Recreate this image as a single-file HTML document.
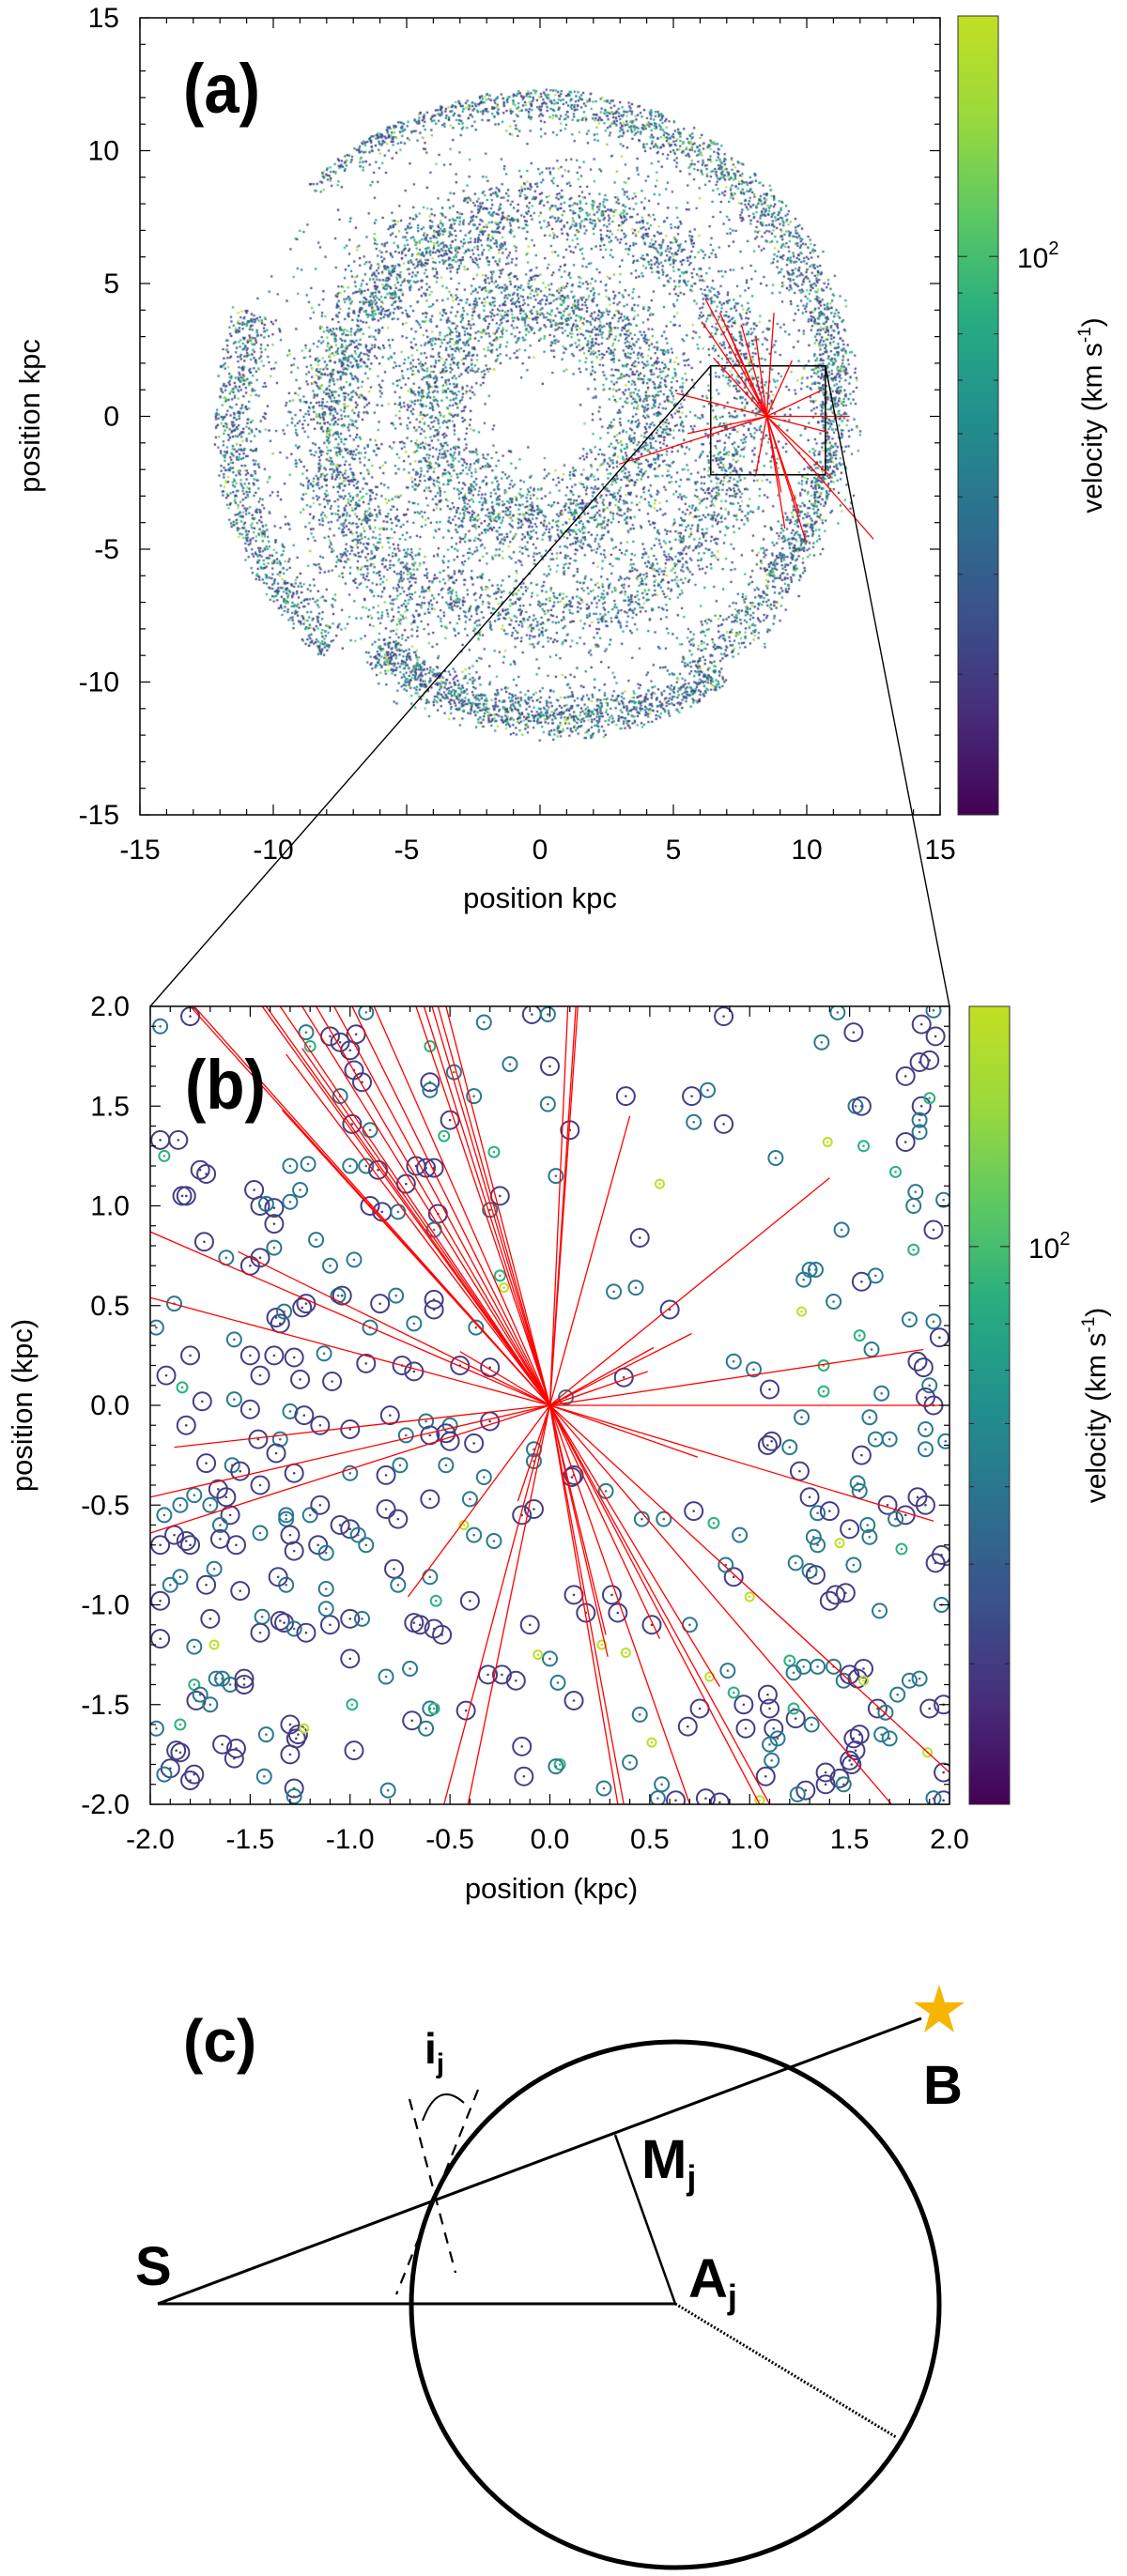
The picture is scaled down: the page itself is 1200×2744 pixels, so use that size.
<!DOCTYPE html>
<html><head><meta charset="utf-8">
<style>
html,body{margin:0;padding:0;background:#fff;}
#wrap{position:relative;width:1200px;height:2744px;overflow:hidden;}
svg,canvas{position:absolute;left:0;top:0;}
text{font-family:"Liberation Sans",sans-serif;fill:#000;}
</style></head>
<body>
<div id="wrap">
<canvas id="dots" width="1200" height="900"></canvas>
<svg id="fig" width="1200" height="2744" viewBox="0 0 1200 2744" xmlns="http://www.w3.org/2000/svg">
<defs>
<linearGradient id="vir" x1="0" y1="1" x2="0" y2="0">
<stop offset="0" stop-color="#440154"/><stop offset="0.125" stop-color="#472c7a"/>
<stop offset="0.25" stop-color="#3b518b"/><stop offset="0.375" stop-color="#2c718e"/>
<stop offset="0.5" stop-color="#21908d"/><stop offset="0.625" stop-color="#27ad81"/>
<stop offset="0.75" stop-color="#5cc863"/><stop offset="0.875" stop-color="#9bd93c"/>
<stop offset="1" stop-color="#c2df23"/>
</linearGradient>
<clipPath id="clipB"><rect x="160" y="1072" width="851" height="850"/></clipPath>
</defs>
<g id="panelA"></g>
<g id="panelB"></g>
<g id="panelC">
  <text x="195" y="2196" font-size="64" font-weight="bold">(c)</text>
  <ellipse cx="719" cy="2455" rx="281" ry="280" fill="none" stroke="#000" stroke-width="5"/>
  <line x1="168" y1="2454" x2="981" y2="2150" stroke="#000" stroke-width="3"/>
  <line x1="168" y1="2454" x2="719" y2="2454" stroke="#000" stroke-width="3"/>
  <line x1="655" y1="2274" x2="719" y2="2454" stroke="#000" stroke-width="2.5"/>
  <line x1="719" y1="2454" x2="954" y2="2596" stroke="#000" stroke-width="3" stroke-dasharray="2,2"/>
  <line x1="436" y1="2236" x2="485" y2="2421" stroke="#000" stroke-width="2.2" stroke-dasharray="12,9"/>
  <line x1="509" y1="2226" x2="422" y2="2444" stroke="#000" stroke-width="2.2" stroke-dasharray="12,9"/>
  <path d="M450,2259 Q466,2215 494,2240" fill="none" stroke="#000" stroke-width="2"/>
  <polygon points="1000,2114 1006,2133 1027,2133 1010,2145 1016,2165 1000,2153 984,2165 990,2145 973,2133 994,2133" fill="#f6b500"/>
  <text x="452" y="2198" font-size="46" font-weight="bold">i<tspan font-size="30" dy="10">j</tspan></text>
  <text x="983" y="2241" font-size="58" font-weight="bold">B</text>
  <text x="683" y="2320" font-size="58" font-weight="bold">M<tspan font-size="36" dy="12">j</tspan></text>
  <text x="144" y="2434" font-size="58" font-weight="bold">S</text>
  <text x="733" y="2447" font-size="58" font-weight="bold">A<tspan font-size="36" dy="12">j</tspan></text>
</g>
</svg>
</div>
<script>
// ---------- Panel (a) data ----------
const aRayDx = [-2.30,-2.43,-1.76,-0.95,-0.41,0.27,-3.38,-5.54,-2.97,3.11,2.03,4.0,1.49,0.68,2.43,-0.41,0.54,-1.49,0.95,2.3,-1.2,-2.0,1.2];
const aRayDy = [4.42,3.56,3.90,3.45,3.0,3.90,0.86,-1.80,-0.65,0,0.97,-4.62,-4.78,-4.22,-2.30,-2.19,-2.86,3.34,2.1,-0.6,2.6,2.2,-3.6];
const aSource = [8.5, 0];
const aTicksMajor = [-15,-10,-5,0,5,10,15];
const cbarMinor = [30,40,50,60,70,80,90];
// galaxy arm segments (texture)
const armR0 = [10.6,11.4,10.6,10.8,8.0,4.3,6.8];
const armR1 = [12.4,11.8,11.9,11.0,7.4,4.2,9.2];
const armT0 = [-35,160,235,300,0,0,100];
const armT1 = [135,228,305,325,360,360,240];
const armW  = [0.45,0.5,0.45,0.5,0.7,0.9,0.7];
const armN  = [2700,1000,1300,250,3300,3100,900];
const dotColors = ['#46327e','#3e4a89','#3b528b','#31688e','#26828e','#1f9e89','#35b779','#6ece58','#b5de2b'];
const dotWeights = [0.12,0.2,0.14,0.14,0.12,0.11,0.08,0.05,0.04];

// ---------- Panel (b) data ----------
const bRayX = [-1.80,-1.78,-1.44,-1.42,-1.35,-1.24,-1.17,-1.08,-0.99,-0.88,-0.67,-0.63,-0.59,-0.56,-0.52,0.09,0.13,0.14,
 -1.34,-1.32,-1.24,0.40,1.40,0.71,0.52,0.49,1.87,2.0,1.92,0.74,-1.88,-1.56,-2,-2,-2,-2,-0.71,-0.16,-0.45,
 -0.53,-0.41,0.34,0.37,0.70,1.05,1.10,1.71,2.0,0.29,0.28,0.55,0.85];
const bRayY = [2,2,2,2,2,2,2,2,2,2,2,2,2,2,2,2,2,2,
 1.48,1.76,1.79,1.45,1.14,0.36,0.29,0.17,0.28,0.0,-0.58,-0.26,-0.21,0.77,0.87,0.54,-0.46,-0.64,-0.96,-0.48,0.27,
 -2,-2,-2,-2,-2,-2,-2,-2,-1.84,-1.26,-1.15,-1.17,-1.41];
const bStars = [
[-1.95,1.9,1],[-1.8,1.95,0],[-1.22,1.87,1],[-1.2,1.8,2],[-1.1,1.85,0],[-1.05,1.82,0],[-1.0,1.78,0],[-0.97,1.86,0],[-0.92,1.97,1],[-0.98,1.68,0],[-0.94,1.62,0],[-1.05,1.55,1],[-0.99,1.41,0],[-0.9,1.38,1],[-0.6,1.62,0],[-0.6,1.58,1],[-0.48,1.67,1],[-0.6,1.8,2],[-0.33,1.92,1],[-0.09,1.96,0],[-0.01,1.96,1],[-0.2,1.71,1],[0.0,1.7,0],[-0.38,1.55,1],[-0.01,1.51,1],[0.38,1.55,0],[0.71,1.55,0],[0.79,1.58,1],[0.72,1.42,1],[0.87,1.41,0],[0.87,1.95,0],[1.36,1.82,1],[1.44,1.97,1],[1.52,1.87,0],[1.53,1.5,1],[1.56,1.5,0],[1.78,1.65,0],[1.85,1.72,0],[1.9,1.73,0],[1.93,1.85,0],[1.86,1.91,0],[1.92,1.98,1],[1.86,1.5,0],[1.85,1.43,1],[1.85,1.37,1],[1.9,1.54,2],[-0.5,1.43,0],[0.1,1.38,0],[-0.53,1.35,2],[-0.28,1.27,2],[-1.86,1.33,0],[-1.95,1.33,0],[-1.93,1.25,2],[-1.75,1.18,0],[-1.72,1.16,0],[-1.3,1.2,1],[-1.21,1.21,1],[-1.0,1.2,1],[-0.92,1.2,1],[-0.86,1.18,0],[-0.67,1.2,0],[-0.62,1.19,0],[-0.58,1.19,0],[-0.72,1.11,0],[0.03,1.15,1],[1.13,1.24,1],[1.78,1.32,0],[1.39,1.32,3],[1.57,1.3,2],[1.73,1.17,2],[1.83,1.07,1],[1.82,1.0,1],[1.97,1.03,1],[1.92,0.88,0],[1.46,0.88,1],[-1.84,1.05,0],[-1.82,1.05,0],[-1.48,1.08,0],[-1.45,1.0,0],[-1.42,1.01,1],[-1.38,0.99,0],[-1.3,1.02,1],[-1.25,1.08,1],[-1.38,0.91,0],[-0.9,1.0,0],[-0.84,0.97,0],[-0.76,0.97,1],[-0.56,0.96,0],[-0.58,0.88,1],[-0.3,0.98,1],[-0.25,1.05,0],[0.45,0.84,0],[0.55,1.11,3],[-1.73,0.82,0],[-1.62,0.74,1],[-1.5,0.7,0],[-1.45,0.74,0],[-1.38,0.79,1],[-1.17,0.83,1],[-1.1,0.7,1],[-0.98,0.73,1],[-1.06,0.55,1],[-1.04,0.55,0],[-0.85,0.51,0],[-0.77,0.55,1],[-0.58,0.53,0],[-0.58,0.48,0],[-0.25,0.65,2],[-0.23,0.59,3],[0.32,0.57,1],[0.43,0.59,1],[0.6,0.48,0],[1.27,0.63,1],[1.3,0.68,1],[1.33,0.68,1],[1.42,0.52,1],[1.56,0.62,0],[1.63,0.65,1],[1.82,0.78,2],[1.26,0.47,3],[1.8,0.43,1],[1.92,0.42,1],[1.61,0.28,1],[1.55,0.35,2],[1.95,0.34,0],[-1.97,0.39,1],[-1.88,0.51,1],[-1.37,0.44,0],[-1.35,0.41,0],[-1.33,0.47,1],[-1.24,0.49,0],[-1.22,0.51,0],[-0.9,0.39,1],[-0.68,0.41,1],[-0.37,0.39,1],[-1.58,0.33,1],[-1.8,0.25,0],[-1.5,0.25,0],[-1.38,0.25,0],[-1.28,0.24,0],[-1.13,0.26,1],[-0.92,0.21,0],[-0.74,0.2,0],[-0.68,0.17,0],[-0.45,0.2,0],[-0.3,0.19,0],[-1.92,0.15,0],[-1.84,0.09,2],[-1.45,0.15,0],[-1.25,0.13,0],[-1.09,0.12,0],[0.37,0.14,0],[0.92,0.22,1],[1.02,0.18,1],[1.37,0.2,2],[1.84,0.22,0],[1.87,0.19,0],[1.9,0.1,1],[1.1,0.08,0],[1.37,0.07,2],[1.66,0.06,1],[1.88,0.04,0],[1.92,0.0,0],
[-1.74,0.02,0],[-1.58,0.03,1],[-1.5,-0.02,0],[-1.3,-0.03,1],[-1.23,-0.05,0],[-1.15,-0.1,0],[-1.0,-0.12,0],[-0.8,-0.05,0],[-0.62,-0.08,1],[-0.5,-0.1,1],[-0.3,-0.08,0],[0.08,0.04,1],[-0.72,-0.15,1],[-0.6,-0.15,0],[-0.52,-0.14,0],[-0.5,-0.18,0],[-0.38,-0.19,0],[-0.08,-0.22,1],[-0.08,-0.28,1],[0.11,-0.36,0],[1.26,-0.06,1],[1.6,-0.06,1],[1.09,-0.2,0],[1.11,-0.18,0],[1.2,-0.21,1],[1.56,-0.25,0],[1.63,-0.17,1],[1.7,-0.17,1],[1.88,-0.12,1],[1.88,-0.22,1],[1.98,-0.18,1],[1.25,-0.33,0],[1.54,-0.39,1],[1.3,-0.46,0],[1.55,-0.43,1],[1.34,-0.54,1],[1.4,-0.53,0],[1.69,-0.5,0],[1.78,-0.55,0],[1.73,-0.57,1],[1.84,-0.46,0],[1.88,-0.5,0],[1.59,-0.6,1],[1.5,-0.62,0],[1.6,-0.66,1],[1.32,-0.66,1],[1.34,-0.7,1],[1.45,-0.69,3],[1.76,-0.72,2],[1.96,-0.75,0],[1.93,-0.79,0],[1.23,-0.79,1],[1.3,-0.83,1],[1.33,-0.85,0],[1.52,-0.8,1],[0.92,-0.86,0],[1.0,-0.96,3],[1.43,-0.95,0],[1.48,-0.94,0],[1.4,-0.98,0],[1.96,-1.0,1],[1.65,-1.03,1],[0.12,-0.35,0],[0.28,-0.43,1],[0.72,-0.53,0],[0.46,-0.57,1],[0.82,-0.59,2],
[-1.82,-0.1,0],[-1.72,-0.29,0],[-1.59,-0.3,1],[-1.46,-0.17,0],[-1.35,-0.17,1],[-1.37,-0.24,0],[-1.28,-0.34,0],[-1.55,-0.33,0],[-1.45,-0.4,0],[-1.66,-0.42,0],[-1.62,-0.46,0],[-1.78,-0.45,1],[-1.7,-0.5,1],[-1.93,-0.55,1],[-1.85,-0.5,1],[-1.6,-0.55,0],[-1.65,-0.6,1],[-1.88,-0.65,0],[-1.95,-0.7,0],[-1.82,-0.68,0],[-1.8,-0.7,0],[-1.65,-0.67,0],[-1.57,-0.7,0],[-1.45,-0.64,1],[-1.32,-0.55,1],[-1.32,-0.57,1],[-1.3,-0.65,0],[-1.2,-0.55,1],[-1.16,-0.7,0],[-1.12,-0.74,1],[-1.28,-0.73,0],[-1.05,-0.6,0],[-1.0,-0.62,0],[-0.96,-0.65,1],[-0.92,-0.7,1],[-0.82,-0.52,0],[-0.76,-0.57,0],[-0.6,-0.47,0],[-0.4,-0.47,1],[-0.33,-0.36,1],[-0.52,-0.3,1],[-0.82,-0.35,0],[-0.75,-0.3,1],[-1.0,-0.34,1],[-1.15,-0.5,0],[-1.68,-0.82,1],[-1.72,-0.9,0],[-1.9,-0.9,1],[-1.95,-0.98,0],[-1.85,-0.86,1],[-1.55,-0.93,0],[-1.32,-0.9,1],[-1.36,-0.86,0],[-1.12,-0.92,1],[-0.78,-0.82,0],[-0.76,-0.9,1],[-0.6,-0.86,1],[-0.4,-0.98,0],[-0.38,-0.65,1],[-0.28,-0.68,1],[-0.43,-0.6,3],[-0.57,-0.98,2],[-1.44,-1.06,1],[-1.35,-1.08,0],[-1.45,-1.14,0],[-1.33,-1.09,0],[-1.28,-1.12,1],[-1.22,-1.14,0],[-1.1,-1.1,0],[-1.0,-1.07,0],[-0.94,-1.07,1],[-1.12,-1.02,1],[-1.7,-1.07,0],[-1.95,-1.17,0],[-1.78,-1.21,1],[-1.68,-1.2,3],[-1.0,-1.27,0],[-0.82,-1.36,1],[-0.7,-1.32,1],[-0.68,-1.09,0],[-0.65,-1.1,0],[-0.58,-1.12,0],[-0.54,-1.15,0],[-0.31,-1.35,0],[-0.24,-1.35,0],[-0.17,-1.38,0],[-0.1,-1.1,0],[-0.14,-0.55,0],[-0.08,-0.52,0],[0.0,-1.27,1],[0.04,-1.39,1],[0.12,-1.48,0],[-0.06,-1.25,3],
[-1.67,-1.37,1],[-1.64,-1.37,1],[-1.6,-1.4,1],[-1.53,-1.37,0],[-1.53,-1.4,0],[-1.78,-1.4,2],[-1.77,-1.48,0],[-1.75,-1.45,1],[-1.7,-1.5,1],[-1.85,-1.6,2],[-1.97,-1.62,1],[-1.87,-1.73,0],[-1.85,-1.74,0],[-1.78,-1.85,0],[-1.9,-1.82,0],[-1.93,-1.85,1],[-1.8,-1.88,0],[-1.64,-1.7,0],[-1.57,-1.72,0],[-1.58,-1.77,0],[-1.42,-1.65,1],[-1.43,-1.86,1],[-1.3,-1.6,0],[-1.27,-1.67,0],[-1.26,-1.65,0],[-1.23,-1.62,3],[-1.3,-1.75,0],[-1.28,-1.92,0],[-1.28,-1.96,1],[-0.99,-1.5,2],[-0.98,-1.73,0],[-0.81,-1.93,1],[-0.69,-1.58,0],[-0.62,-1.62,1],[-0.6,-1.52,1],[-0.58,-1.52,2],[-0.42,-1.53,0],[-0.14,-1.71,0],[-0.13,-1.86,0],[0.05,-1.8,2],[0.03,-1.81,1],[0.27,-1.92,1],[0.4,-1.79,1],[0.45,-1.55,1],[0.51,-1.69,3],[0.56,-1.9,1],[0.54,-1.97,1],[0.69,-1.61,0],[0.63,-1.98,0],[0.78,-1.97,0],[0.85,-1.99,0],[0.89,-1.33,1],[0.97,-1.5,0],[0.98,-1.62,0],[0.92,-1.44,2],[1.09,-1.45,0],[1.1,-1.52,0],[1.12,-1.62,0],[1.14,-1.67,1],[1.1,-1.7,1],[1.11,-1.78,1],[1.08,-1.86,0],[1.2,-1.28,2],[1.22,-1.34,1],[1.27,-1.31,1],[1.23,-1.57,0],[1.34,-1.31,1],[1.42,-1.31,1],[1.47,-1.38,1],[1.5,-1.35,0],[1.54,-1.37,0],[1.57,-1.32,0],[1.57,-1.38,3],[1.22,-1.52,2],[1.31,-1.6,1],[1.38,-1.84,0],[1.45,-1.87,0],[1.47,-1.9,1],[1.38,-1.9,0],[1.28,-1.93,0],[1.24,-1.95,1],[1.05,-1.98,3],[1.52,-1.67,0],[1.55,-1.65,0],[1.5,-1.78,0],[1.51,-1.8,0],[1.53,-1.73,0],[1.64,-1.52,0],[1.68,-1.54,1],[1.74,-1.45,1],[1.66,-1.65,1],[1.7,-1.67,1],[1.9,-1.52,0],[1.97,-1.5,0],[1.97,-1.84,0],[1.97,-1.98,0],[1.92,-1.97,1],[1.89,-1.74,3],[1.85,-1.37,1],[1.8,-1.38,1],[0.8,-1.36,3],[0.75,-1.52,0],[0.51,-1.1,0],[0.7,-1.1,1],[0.31,-0.95,0],[0.12,-0.95,0],[0.34,-1.04,0],[0.18,-1.04,0],[0.26,-1.2,3],[0.38,-1.24,3],[0.95,-0.65,1],[0.57,-0.57,1],[0.88,-0.8,1]
];
const bTicksMajor = [-2.0,-1.5,-1.0,-0.5,0.0,0.5,1.0,1.5,2.0];
const starColor = ['#433e85','#2a788e','#2db27d','#bddf26'];
const starRadius = [9.5,7.5,5.5,4.5];

const NS='http://www.w3.org/2000/svg';
function mk(tag, attrs, parent){const e=document.createElementNS(NS,tag);for(const k in attrs)e.setAttribute(k,attrs[k]);parent.appendChild(e);return e;}

const A={x0:149,x1:1001,y0:19,y1:868,min:-15,max:15};
const ax=v=>A.x0+(v-A.min)/(A.max-A.min)*(A.x1-A.x0);
const ay=v=>A.y1-(v-A.min)/(A.max-A.min)*(A.y1-A.y0);
const B={x0:160,x1:1011,y0:1072,y1:1922,min:-2,max:2};
const bx=v=>B.x0+(v-B.min)/(B.max-B.min)*(B.x1-B.x0);
const by=v=>B.y1-(v-B.min)/(B.max-B.min)*(B.y1-B.y0);

function frame(g,P,xs,ys,major,minorStep,fmt,name){
  let r=mk('rect',{x:P.x0,y:P.y0,width:P.x1-P.x0,height:P.y1-P.y0,fill:'none',stroke:'#000','stroke-width':1.5},g);
  
  
  for(let v=P.min;v<=P.max+1e-9;v+=minorStep){
    const isMaj=major.some(m=>Math.abs(m-v)<1e-6);const L=isMaj?11:6;
    const X=xs(v),Y=ys(v);
    mk('line',{x1:X,y1:P.y1,x2:X,y2:P.y1-L,stroke:'#000','stroke-width':1.2},g);
    mk('line',{x1:X,y1:P.y0,x2:X,y2:P.y0+L,stroke:'#000','stroke-width':1.2},g);
    mk('line',{x1:P.x0,y1:Y,x2:P.x0+L,y2:Y,stroke:'#000','stroke-width':1.2},g);
    mk('line',{x1:P.x1,y1:Y,x2:P.x1-L,y2:Y,stroke:'#000','stroke-width':1.2},g);
  }
  major.forEach(v=>{
    let t=mk('text',{x:xs(v),y:P.y1+47,'font-size':30,'text-anchor':'middle'},g);t.textContent=fmt(v);
    
    
    let u=mk('text',{x:P.x0-22,y:ys(v)+10,'font-size':30,'text-anchor':'end'},g);u.textContent=fmt(v);
    
    
  });
}
function cbar(g,x0,x1,y0,y1,labelX,name){
  let r=mk('rect',{x:x0,y:y0,width:x1-x0,height:y1-y0,fill:'url(#vir)',stroke:'#333','stroke-width':1},g);
  
  
  const lo=Math.log10(20),hi=Math.log10(200);
  const cy=v=>y1-(Math.log10(v)-lo)/(hi-lo)*(y1-y0);
  [100].concat(cbarMinor).forEach(v=>{const L=v===100?10:5;
    mk('line',{x1:x0,y1:cy(v),x2:x0+L,y2:cy(v),stroke:'#222','stroke-width':1},g);
    mk('line',{x1:x1,y1:cy(v),x2:x1-L,y2:cy(v),stroke:'#222','stroke-width':1},g);});
  let t=mk('text',{x:x1+20,y:cy(100)+12,'font-size':30},g);
  t.innerHTML='10<tspan font-size="20" dy="-14">2</tspan>';
  
  
  const mid=(y0+y1)/2;
  let l=mk('text',{x:labelX,y:mid,'font-size':30,'text-anchor':'middle',transform:`rotate(-90 ${labelX} ${mid})`},g);
  l.innerHTML='velocity (km s<tspan font-size="19" dy="-12">-1</tspan><tspan dy="12">)</tspan>';
  
  
}

// ---- Panel A ----
const gA=document.getElementById('panelA');
(function(){
  const c=document.getElementById('dots').getContext('2d');
  let s=12345;const rnd=()=>{s=(s*1103515245+12345)%2147483648;return s/2147483648;};
  const gauss=()=>{let u=rnd()||1e-6,v=rnd();return Math.sqrt(-2*Math.log(u))*Math.cos(2*Math.PI*v);};
  const pick=()=>{let r=rnd(),a=0;for(let i=0;i<dotWeights.length;i++){a+=dotWeights[i];if(r<a)return dotColors[i];}return dotColors[0];};
  const plot=(x,y)=>{const r=Math.hypot(x,y);if(r>12.3)return;c.fillStyle=pick();c.fillRect(ax(x)-1,ay(y)-1,2.2,2.2);};
  for(let k=0;k<armR0.length;k++){
    for(let i=0;i<armN[k];i++){
      const f=rnd();const th=(armT0[k]+f*(armT1[k]-armT0[k]))*Math.PI/180;
      const r=armR0[k]+f*(armR1[k]-armR0[k])+gauss()*armW[k];
      plot(r*Math.cos(th),r*Math.sin(th));
    }
  }
  for(let i=0;i<1300;i++){const r=2+Math.sqrt(rnd())*9.5,th=rnd()*2*Math.PI;plot(r*Math.cos(th),r*Math.sin(th));}
})();
frame(gA,A,ax,ay,aTicksMajor,1,v=>String(v),'panel-a');
cbar(gA,1020,1063,17,868,1173,'colorbar-a');
let ta=mk('text',{x:195,y:120,'font-size':74,'font-weight':'bold',textLength:82,lengthAdjust:'spacingAndGlyphs'},gA);ta.textContent='(a)';


let xa=mk('text',{x:575,y:967,'font-size':31,'text-anchor':'middle'},gA);xa.textContent='position kpc';


let ya=mk('text',{x:42,y:443,'font-size':31,'text-anchor':'middle',transform:'rotate(-90 42 443)'},gA);ya.textContent='position kpc';


const boxL=ax(aSource[0]-2.1),boxR=ax(aSource[0]+2.2),boxT=ay(1.9),boxB=ay(-2.2);
let zb=mk('rect',{x:boxL,y:boxT,width:boxR-boxL,height:boxB-boxT,fill:'none',stroke:'#000','stroke-width':1.5},gA);


aRayDx.forEach((dx,i)=>{
  let l=mk('line',{x1:ax(aSource[0]),y1:ay(aSource[1]),x2:ax(aSource[0]+dx),y2:ay(aSource[1]+aRayDy[i]),stroke:'#f00','stroke-width':1.3},gA);
  
  
});
let z1=mk('line',{x1:boxL,y1:boxT,x2:B.x0,y2:B.y0,stroke:'#000','stroke-width':1.4},gA);


let z2=mk('line',{x1:boxR,y1:boxT,x2:B.x1,y2:B.y0,stroke:'#000','stroke-width':1.4},gA);



// ---- Panel B ----
const gB=document.getElementById('panelB');
const gBc=mk('g',{'clip-path':'url(#clipB)'},gB);
bStars.forEach(p=>{
  const X=bx(p[0]),Y=by(p[1]);
  let c=mk('circle',{cx:X,cy:Y,r:starRadius[p[2]],fill:'none',stroke:starColor[p[2]],'stroke-width':2},gBc);
  
  
  mk('circle',{cx:X,cy:Y,r:1.3,fill:starColor[p[2]]},gBc);
});
bRayX.forEach((x,i)=>{
  let l=mk('line',{x1:bx(0),y1:by(0),x2:bx(x),y2:by(bRayY[i]),stroke:'#f00','stroke-width':1.3},gBc);
  
  
});
frame(gB,B,bx,by,bTicksMajor,0.1,v=>v.toFixed(1),'panel-b');
cbar(gB,1032,1075,1072,1922,1177,'colorbar-b');
let tb=mk('text',{x:197,y:1181,'font-size':74,'font-weight':'bold',textLength:86,lengthAdjust:'spacingAndGlyphs'},gB);tb.textContent='(b)';


let xb=mk('text',{x:587,y:2022,'font-size':31,'text-anchor':'middle'},gB);xb.textContent='position (kpc)';


let yb=mk('text',{x:34,y:1497,'font-size':31,'text-anchor':'middle',transform:'rotate(-90 34 1497)'},gB);yb.textContent='position (kpc)';


</script>
</body></html>
